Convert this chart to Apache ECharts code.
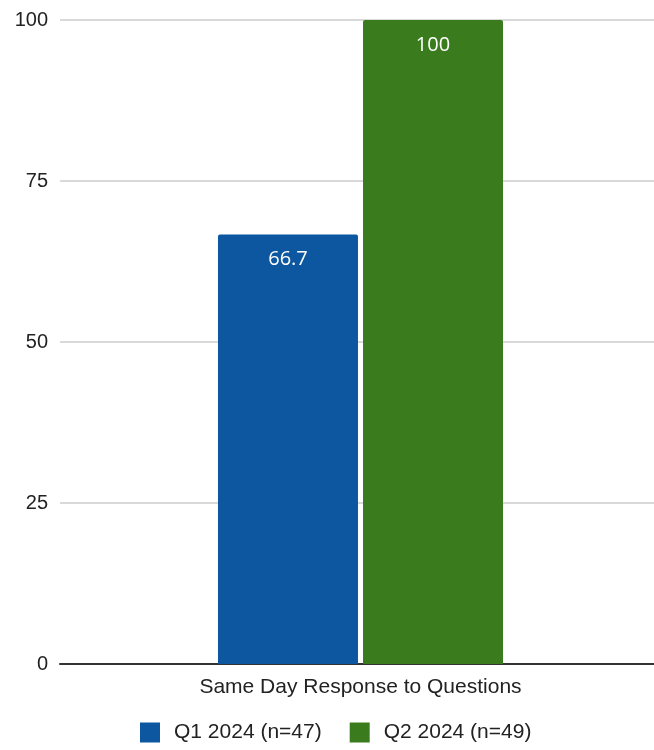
<!DOCTYPE html>
<html>
<head>
<meta charset="utf-8">
<script src="https://cdn.jsdelivr.net/npm/echarts@6/dist/echarts.min.js"></script>
<style>
  html, body { margin: 0; padding: 0; background: #fff; }
  #chart { width: 654px; height: 750px; }
</style>
</head>
<body>
<div id="chart"></div>
<script>
// Chart data
const categories = ['Same Day Response to Questions'];
const seriesNames = ['Q1 2024 (n=47)', 'Q2 2024 (n=49)'];
const q1Values = [66.7];
const q2Values = [100];
const yTicks = { min: 0, max: 100, interval: 25 };

const colors = ['#0d56a0', '#3a7b1e'];
const fontFamily = 'Liberation Sans, Arial, sans-serif';

const chart = echarts.init(document.getElementById('chart'));

function barSeries(name, values, color) {
  return {
    name: name,
    type: 'bar',
    data: values,
    barWidth: 140,
    barGap: '3.6%',
    itemStyle: { color: color, borderRadius: [2, 2, 0, 0] },
    label: {
      show: true,
      position: 'insideTop',
      distance: 15,
      color: '#ffffff',
      fontSize: 20,
      fontFamily: 'Open Sans, sans-serif'
    }
  };
}

chart.setOption({
  animation: false,
  backgroundColor: '#ffffff',
  // the plot runs slightly past the right edge of the canvas
  grid: { left: 60, width: 601, top: 20, bottom: 86, containLabel: false, outerBoundsMode: 'none' },
  legend: {
    bottom: 2,
    left: 135,
    icon: 'rect',
    itemWidth: 20,
    itemHeight: 20,
    itemGap: 28,
    textStyle: { fontSize: 21, color: '#222', fontFamily: fontFamily, padding: [0, 0, 0, 9] },
    data: seriesNames
  },
  xAxis: {
    type: 'category',
    data: categories,
    axisLine: { lineStyle: { color: '#333', width: 2 } },
    axisTick: { show: false },
    axisLabel: { fontSize: 21, color: '#222', margin: 13, fontFamily: fontFamily }
  },
  yAxis: {
    type: 'value',
    min: yTicks.min,
    max: yTicks.max,
    interval: yTicks.interval,
    axisLine: { show: false },
    axisTick: { show: false },
    axisLabel: { fontSize: 20, color: '#222', margin: 12, fontFamily: fontFamily },
    splitLine: { lineStyle: { color: '#cccccc', width: 1.5 } }
  },
  series: [
    barSeries(seriesNames[0], q1Values, colors[0]),
    barSeries(seriesNames[1], q2Values, colors[1])
  ]
});
</script>
</body>
</html>
